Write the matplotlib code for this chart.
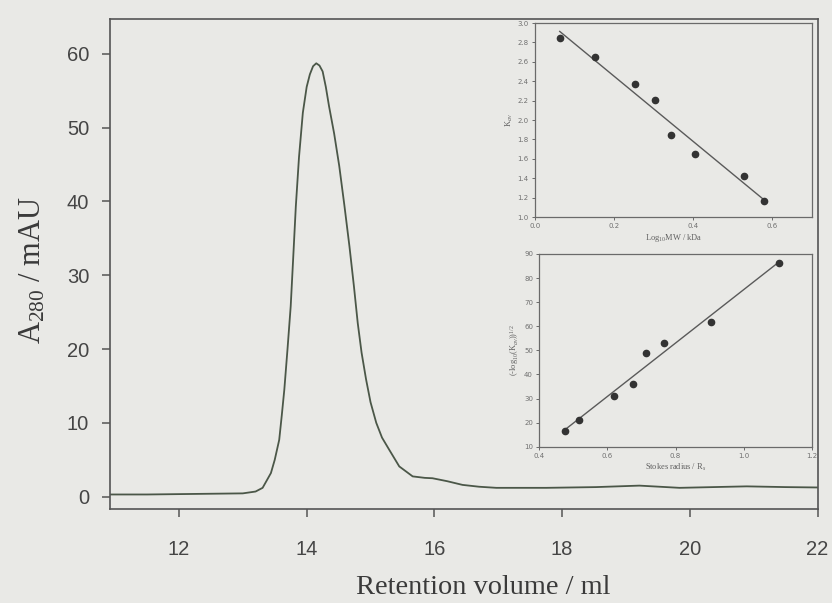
import numpy as np
import matplotlib
matplotlib.use("Agg")
import matplotlib.pyplot as plt

plt.rcParams["mathtext.fontset"] = "custom"
plt.rcParams["mathtext.rm"] = "Liberation Serif"
plt.rcParams["mathtext.it"] = "Liberation Serif:italic"

# Size-exclusion chromatogram (A280 vs retention volume)
volume_ml = [10.92, 11.5, 12.0, 12.5, 13.0, 13.2, 13.31, 13.44, 13.5, 13.57, 13.61,
             13.65, 13.70, 13.75, 13.79, 13.83, 13.88, 13.94, 14.0, 14.05, 14.1,
             14.15, 14.2, 14.25, 14.3, 14.35, 14.43, 14.51, 14.59, 14.67, 14.74,
             14.80, 14.86, 14.93, 15.0, 15.09, 15.18, 15.29, 15.45, 15.66, 15.85,
             15.97, 16.2, 16.44, 16.7, 16.97, 17.75, 18.53, 19.21, 19.84, 20.89,
             21.5, 22.0]
a280_mau = [0.3, 0.3, 0.35, 0.4, 0.45, 0.7, 1.2, 3.2, 5.0, 7.7, 11.0,
            14.5, 20.0, 25.8, 32.5, 39.3, 46.0, 52.0, 55.5, 57.2, 58.3,
            58.7, 58.4, 57.6, 55.5, 52.9, 49.2, 44.8, 39.5, 33.9, 28.5,
            23.5, 19.5, 15.9, 12.8, 10.0, 8.0, 6.4, 4.1, 2.75, 2.55,
            2.5, 2.1, 1.6, 1.35, 1.2, 1.2, 1.3, 1.5, 1.2, 1.4,
            1.3, 1.25]
main_xticks = [12, 14, 16, 18, 20, 22]
main_yticks = [0, 10, 20, 30, 40, 50, 60]

# Calibration: Kav vs log10 MW
log_mw = [0.0625, 0.152, 0.252, 0.304, 0.344, 0.404, 0.527, 0.579]
kav = [2.85, 2.65, 2.377, 2.21, 1.844, 1.654, 1.42, 1.163]

# Calibration: (-log Kav)^1/2 vs Stokes radius
stokes_r = [0.4765, 0.5176, 0.62, 0.674, 0.713, 0.767, 0.903, 1.104]
neg_log_kav = [16.7, 21.2, 31.2, 36.0, 48.8, 53.0, 61.9, 86.1]

paper = "#e9e9e6"
spine_c = "#555555"
text_c = "#454545"
curve_c = "#4b5748"

fig = plt.figure(figsize=(8.32, 6.03), dpi=100, facecolor=paper)

ax = fig.add_axes([0.1322, 0.1567, 0.8504, 0.8118], facecolor=paper)
ax.plot(volume_ml, a280_mau, color=curve_c, lw=1.3, solid_joinstyle="round")
ax.set_xlim(10.92, 22)
ax.set_ylim(-1.6, 64.7)
ax.set_xticks(main_xticks)
ax.set_yticks(main_yticks)
for s in ax.spines.values():
    s.set_color(spine_c)
    s.set_linewidth(1.2)
ax.tick_params(axis="both", direction="out", length=6, width=1.1, color=spine_c,
               labelcolor=text_c, labelsize=14.5)
ax.tick_params(axis="x", pad=17)
ax.tick_params(axis="y", pad=9)
for lab in ax.get_xticklabels() + ax.get_yticklabels():
    lab.set_fontfamily("Liberation Sans")
ax.set_xlabel("Retention volume / ml", fontfamily="Liberation Serif", fontsize=20.4,
              color="#3a3a3a")
ax.xaxis.set_label_coords(0.527, -0.135)
ax.set_ylabel("A$_{280}$ / mAU", fontfamily="Liberation Serif", fontsize=22,
              color="#3a3a3a")
ax.yaxis.set_label_coords(-0.088, 0.487)


def inset(rect, xs, ys, xlim, ylim, xticks, yticks, xlabel, ylabel, fmt):
    a = fig.add_axes(rect, facecolor=paper)
    coef = np.polyfit(xs, ys, 1)
    xl = np.array([min(xs), max(xs)])
    a.plot(xl, np.polyval(coef, xl), color="#5a5a5a", lw=1.0)
    a.plot(xs, ys, "o", color="#333333", ms=4.5)
    a.set_xlim(*xlim)
    a.set_ylim(*ylim)
    a.set_xticks(xticks)
    a.set_yticks(yticks)
    a.set_xticklabels([fmt.format(v) for v in xticks])
    a.set_yticklabels([("{:.1f}" if isinstance(v, float) else "{}").format(v) for v in yticks])
    for s in a.spines.values():
        s.set_color("#6a6a6a")
        s.set_linewidth(0.9)
    a.tick_params(direction="out", length=2.5, width=0.7, color="#6a6a6a",
                  labelcolor="#707070", labelsize=5, pad=2)
    a.set_xlabel(xlabel, fontfamily="Liberation Serif", fontsize=6, color="#606060",
                 labelpad=2)
    a.set_ylabel(ylabel, fontfamily="Liberation Serif", fontsize=6, color="#606060",
                 labelpad=2)
    return a


inset([0.643, 0.640, 0.333, 0.3217], log_mw, kav, (0.0, 0.7), (1.0, 3.0),
      [0.0, 0.2, 0.4, 0.6], [1.0, 1.2, 1.4, 1.6, 1.8, 2.0, 2.2, 2.4, 2.6, 2.8, 3.0],
      "Log$_{10}$MW / kDa", "K$_{av}$", "{:.1f}")
inset([0.6482, 0.2592, 0.3274, 0.3196], stokes_r, neg_log_kav, (0.4, 1.2), (10, 90),
      [0.4, 0.6, 0.8, 1.0, 1.2], [10, 20, 30, 40, 50, 60, 70, 80, 90],
      "Stokes radius / R$_s$", "(-log$_{10}$(K$_{av}$))$^{1/2}$", "{:.1f}")

fig.savefig("out.png", dpi=100, facecolor=paper)
